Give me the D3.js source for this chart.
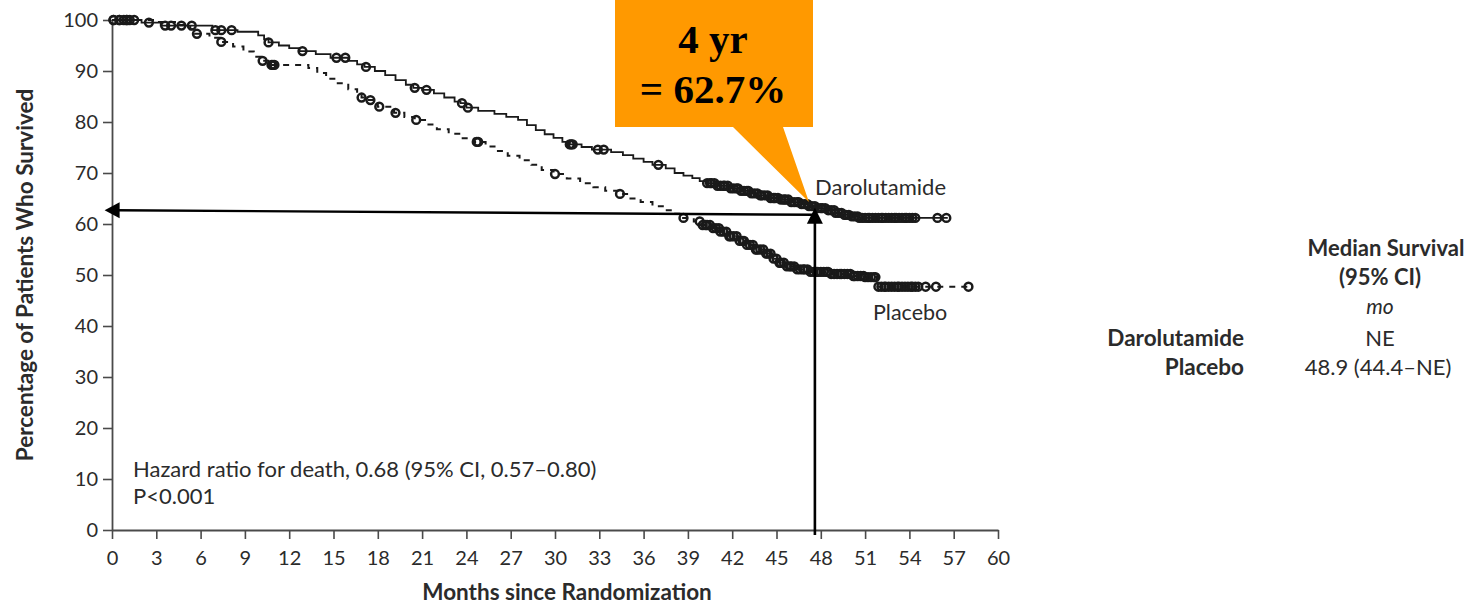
<!DOCTYPE html>
<html><head><meta charset="utf-8">
<script src="https://cdn.jsdelivr.net/npm/d3@7"></script>
<style>
body{margin:0;background:#fff}
svg{display:block}
text{font-family:Lato,"Open Sans",sans-serif;fill:#2b2b2b}
</style>
</head><body>
<svg id="c" width="1476" height="607"></svg>
<script>
// ---------- data ----------
const xTicks = [0,3,6,9,12,15,18,21,24,27,30,33,36,39,42,45,48,51,54,57,60];
const yTicks = [0,10,20,30,40,50,60,70,80,90,100];

// Kaplan-Meier steps [month, % surviving]
const daroSteps = [[0,100],[2.0,99.5],[3.3,98.9],[6.8,98.0],[8.5,97.7],[9.9,97.0],[10.3,96.2],[10.6,95.6],
  [11.3,95.0],[12.0,94.5],[12.7,93.9],[13.8,93.3],[14.8,92.6],[16.0,92.0],[16.6,91.3],[17.1,90.8],
  [17.8,90.0],[18.5,89.2],[19.2,88.2],[19.9,87.3],[20.4,86.7],[21.0,86.3],[21.8,85.6],[22.5,84.8],
  [23.2,84.0],[23.6,83.7],[24.0,82.8],[24.8,82.2],[25.9,81.6],[26.7,81.0],[27.5,80.4],[28.1,79.4],
  [28.7,78.4],[29.3,77.6],[29.9,76.9],[30.5,76.1],[31.0,75.6],[31.8,75.1],[32.5,74.6],[33.8,74.1],
  [34.6,73.5],[35.3,72.8],[36.0,72.2],[36.6,71.6],[37.5,70.9],[38.1,70.0],[38.7,69.5],[39.3,69.0],
  [39.8,68.4],[40.2,68.0],[41.0,67.5],[41.8,67.0],[42.5,66.5],[43.2,66.0],[43.8,65.6],[44.5,65.1],
  [45.2,64.8],[45.9,64.3],[46.6,63.9],[47.2,63.5],[47.8,63.1],[48.4,62.7],[49.0,62.2],[49.5,61.8],
  [50.0,61.5],[50.6,61.2]];
const daroEnd = 56.6;
const placeboSteps = [[0,100],[3.0,99.6],[4.6,99.0],[5.3,98.2],[5.6,97.3],[6.6,96.5],[7.3,95.7],[8.2,94.8],
  [8.9,93.8],[9.6,92.8],[10.1,92.0],[10.7,91.2],[13.3,90.6],[13.9,89.6],[14.5,88.5],[15.2,87.6],
  [16.0,86.4],[16.6,85.4],[16.9,84.8],[17.4,84.3],[18.0,83.0],[19.1,81.8],[19.8,81.0],[20.5,80.4],
  [21.3,79.5],[22.0,78.6],[22.8,77.7],[23.6,76.8],[24.5,76.1],[25.3,75.2],[26.0,74.3],[26.8,73.4],
  [27.6,72.5],[28.4,71.6],[29.1,70.6],[29.9,69.8],[30.8,68.9],[31.7,68.0],[32.6,67.2],[33.4,66.5],
  [34.3,65.9],[35.0,65.0],[35.8,64.3],[36.6,63.5],[37.3,62.7],[38.0,62.0],[38.6,61.2],[39.4,60.5],
  [39.9,59.8],[40.6,59.2],[41.2,58.5],[41.8,57.6],[42.4,56.7],[43.0,55.9],[43.6,55.0],[44.2,54.2],
  [44.7,53.2],[45.2,52.4],[45.7,51.7],[46.4,51.1],[47.2,50.6],[48.6,50.2],[50.2,49.8],[51.0,49.6],
  [51.8,47.7]];
const placeboEnd = 58.0;

// censoring times (months)
const daroCensor = [0.1,0.5,0.8,1.0,1.2,1.5,2.5,3.6,4.0,4.7,5.4,7.0,7.4,8.1,10.6,12.9,15.2,15.8,17.2,
  20.5,21.3,23.7,24.1,31.0,31.1,31.2,32.9,33.3,37.0,
  40.3,40.5,40.6,40.8,41.0,41.2,41.4,41.5,41.7,41.9,42.1,42.3,42.4,42.6,42.8,43.0,43.1,43.3,43.5,43.7,
  43.9,44.0,44.2,44.4,44.6,44.8,44.9,45.1,45.3,45.5,45.6,45.8,46.0,46.2,46.4,46.5,46.7,46.9,47.1,47.2,
  47.4,47.6,47.8,48.0,48.1,48.3,48.5,48.7,48.9,49.0,49.2,49.4,49.6,49.7,49.9,50.1,50.3,50.5,50.6,50.8,
  51.0,51.2,51.3,51.5,51.7,51.9,52.1,52.2,52.4,52.6,52.8,53.0,53.1,53.3,53.5,53.7,53.8,54.0,54.2,54.4,
  55.9,56.5];
const placeboCensor = [0.1,0.5,1.0,5.75,7.4,10.2,10.8,10.9,11.0,16.9,17.5,18.1,19.2,20.6,24.7,24.8,30.0,34.4,38.7,
  39.8,40.0,40.2,40.3,40.5,40.7,40.9,41.1,41.2,41.4,41.6,41.8,41.9,42.1,42.3,42.5,42.7,42.8,43.0,43.2,
  43.4,43.6,43.7,43.9,44.1,44.3,44.4,44.6,44.8,45.0,45.2,45.3,45.5,45.7,45.9,46.0,46.2,46.4,46.6,46.8,
  46.9,47.1,47.3,47.5,47.7,47.8,48.0,48.2,48.4,48.5,48.7,48.9,49.1,49.3,49.4,49.6,49.8,50.0,50.2,50.3,
  50.5,50.7,50.9,51.0,51.2,51.4,51.6,51.7,
  51.9,52.1,52.3,52.4,52.6,52.8,53.0,53.2,53.3,53.5,53.7,53.9,54.1,54.2,54.4,54.6,55.1,55.8,58.0];

const seriesNames = ["Darolutamide","Placebo"];
const hazardText = ["Hazard ratio for death, 0.68 (95% CI, 0.57\u20130.80)","P<0.001"];
const tableHeader = ["Median Survival","(95% CI)","mo"];
const tableValues = ["NE","48.9 (44.4\u2013NE)"];
const calloutText = ["4 yr","= 62.7%"];
const landmark = {month:47.6, pct:62.7};

// ---------- drawing ----------
const svg = d3.select("#c");
const x = d3.scaleLinear().domain([0,60]).range([112,998]);
const y = d3.scaleLinear().domain([0,100]).range([530,20]);
const ink = "#1a1a1a";

function survAt(steps,t){let v=steps[0][1];for(const s of steps){if(s[0]<=t)v=s[1];else break;}return v;}

// axes
const yAxis = svg.append("g").attr("transform",`translate(${x(0)},0)`)
  .call(d3.axisLeft(y).tickValues(yTicks).tickSize(9).tickSizeOuter(0).tickPadding(5));
const xAxis = svg.append("g").attr("transform",`translate(0,${y(0)})`)
  .call(d3.axisBottom(x).tickValues(xTicks).tickSize(9).tickSizeOuter(0).tickPadding(6));
[yAxis,xAxis].forEach(g=>{
  g.select(".domain").attr("stroke","#4a4a4a").attr("stroke-width",1.8);
  g.selectAll(".tick line").attr("stroke","#4a4a4a").attr("stroke-width",1.6);
  g.selectAll(".tick text").attr("font-size",20).attr("fill","#2b2b2b").style("font-family","Lato");
});
xAxis.selectAll(".tick text").attr("dy",null).attr("y",35);

// axis titles
svg.append("text").attr("transform",`translate(33,${(y(0)+y(100))/2}) rotate(-90)`)
  .attr("text-anchor","middle").attr("font-size",22.5).attr("font-weight",700)
  .text("Percentage of Patients Who Survived");
svg.append("text").attr("x",(x(0)+x(60))/2+12).attr("y",600)
  .attr("text-anchor","middle").attr("font-size",22.5).attr("font-weight",700)
  .text("Months since Randomization");

// curves
const line = d3.line().x(d=>x(d[0])).y(d=>y(d[1])).curve(d3.curveStepAfter);
const daroPath = daroSteps.concat([[daroEnd, daroSteps[daroSteps.length-1][1]]]);
const placPath = placeboSteps.concat([[placeboEnd, placeboSteps[placeboSteps.length-1][1]]]);
svg.append("path").attr("d",line(daroPath)).attr("fill","none").attr("stroke",ink).attr("stroke-width",1.8);
svg.append("path").attr("d",line(placPath)).attr("fill","none").attr("stroke",ink).attr("stroke-width",2)
  .attr("stroke-dasharray","6,6");

function censor(times,steps){
  svg.append("g").selectAll("circle").data(times).join("circle")
    .attr("cx",t=>x(t)).attr("cy",t=>y(survAt(steps,t))).attr("r",3.9)
    .attr("fill","none").attr("stroke",ink).attr("stroke-width",2.5);
}
censor(daroCensor,daroSteps);
censor(placeboCensor,placeboSteps);

// series labels
svg.append("text").attr("x",815).attr("y",195).attr("font-size",22).text(seriesNames[0]);
svg.append("text").attr("x",873).attr("y",320).attr("font-size",21.5).text(seriesNames[1]);

// hazard text
svg.append("text").attr("x",133).attr("y",477).attr("font-size",22).text(hazardText[0]);
svg.append("text").attr("x",133).attr("y",504).attr("font-size",22).text(hazardText[1]);

// landmark arrows
const ax = x(landmark.month);
const hx0 = x(-0.5), hy0 = y(landmark.pct), hy1 = y(landmark.pct-0.9);
svg.append("line").attr("x1",ax).attr("y1",hy1).attr("x2",hx0+12).attr("y2",hy0)
  .attr("stroke","#000").attr("stroke-width",2.4);
svg.append("path").attr("d",`M${hx0},${hy0}L${hx0+15},${hy0-8}L${hx0+15},${hy0+8}Z`).attr("fill","#000");
const vTop = y(landmark.pct+0.5);
svg.append("line").attr("x1",ax).attr("y1",y(-1)).attr("x2",ax).attr("y2",vTop+12)
  .attr("stroke","#000").attr("stroke-width",2.6);
svg.append("path").attr("d",`M${ax},${vTop}L${ax-8},${vTop+16}L${ax+8},${vTop+16}Z`).attr("fill","#000");

// callout
const tipX = x(47.2), tipY = y(64.3);
svg.append("path").attr("d",`M615,0L813,0L813,127L783,127L${tipX},${tipY}L733,127L615,127Z`)
  .attr("fill","#FF9900");
svg.append("text").attr("x",713).attr("y",53).attr("text-anchor","middle")
  .attr("font-size",41).attr("font-weight",700).style("font-family","'Liberation Serif','Times New Roman',serif")
  .style("fill","#000").text(calloutText[0]);
svg.append("text").attr("x",713).attr("y",103).attr("text-anchor","middle")
  .attr("font-size",41).attr("font-weight",700).style("font-family","'Liberation Serif','Times New Roman',serif")
  .style("fill","#000").text(calloutText[1]);

// median table
const tc = 1380;
svg.append("text").attr("x",tc+6).attr("y",256).attr("text-anchor","middle").attr("font-size",22).attr("font-weight",700).text(tableHeader[0]);
svg.append("text").attr("x",tc).attr("y",285).attr("text-anchor","middle").attr("font-size",22).attr("font-weight",700).text(tableHeader[1]);
svg.append("text").attr("x",tc).attr("y",314).attr("text-anchor","middle").attr("font-size",21).attr("font-style","italic").text(tableHeader[2]);
svg.append("text").attr("x",1244).attr("y",346).attr("text-anchor","end").attr("font-size",22.5).attr("font-weight",700).text(seriesNames[0]);
svg.append("text").attr("x",1244).attr("y",375).attr("text-anchor","end").attr("font-size",22.5).attr("font-weight",700).text(seriesNames[1]);
svg.append("text").attr("x",tc).attr("y",346).attr("text-anchor","middle").attr("font-size",22).text(tableValues[0]);
svg.append("text").attr("x",tc-2).attr("y",375).attr("text-anchor","middle").attr("font-size",22).text(tableValues[1]);
</script>
</body></html>
